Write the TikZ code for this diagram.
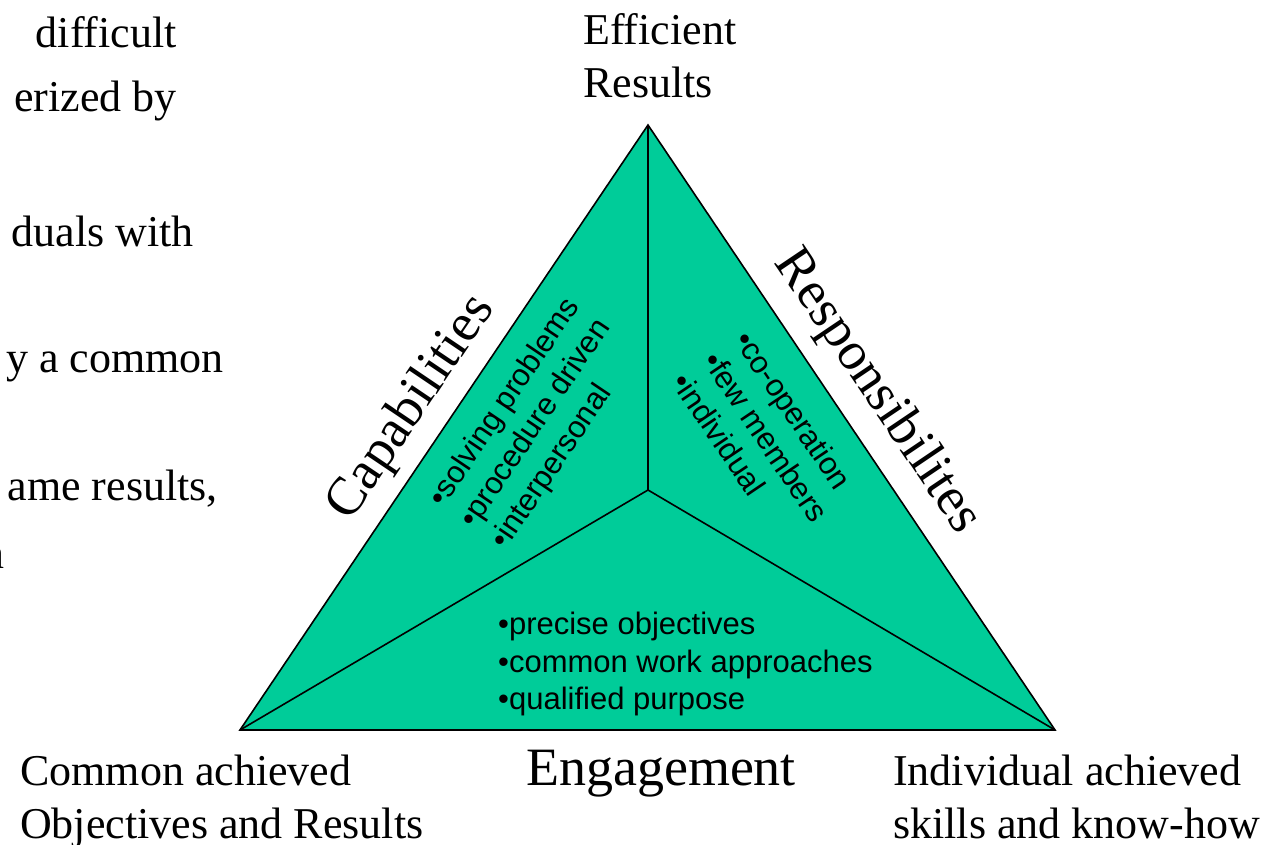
\documentclass[tikz,border=0pt]{standalone}
\usepackage{fontspec}
\setmainfont{Liberation Serif}
\setsansfont{Liberation Sans}
\usetikzlibrary{positioning}
\definecolor{teamgreen}{RGB}{0,204,153}

\begin{document}
\begin{tikzpicture}[
    x=1pt, y=-1pt,
    every node/.style={inner sep=0pt, align=left},
    serif/.style={font=\fontsize{44}{53}\selectfont},
    sidelabel/.style={font=\fontsize{54}{64}\selectfont},
    bullets/.style={font=\sffamily\fontsize{31}{37.5}\selectfont},
    rim/.style={draw=black, line width=1.6pt}
]
\useasboundingbox (0,0) rectangle (1288,845);

% triangle corners and centre
\coordinate (top) at (648,125);
\coordinate (bl) at (240,730);
\coordinate (br) at (1055,730);
\coordinate (mid) at (648,490);

\fill[teamgreen] (top) -- (bl) -- (br) -- cycle;
\draw[rim] (mid) -- (top);
\draw[rim] (mid) -- (bl);
\draw[rim] (mid) -- (br);
\draw[rim] (top) -- (bl) -- (br) -- cycle;

% items inside the three parts
\node[bullets, rotate=56, anchor=west] (capitems) at (468,525) {\textbullet solving problems\\\textbullet procedure driven\\\textbullet interpersonal};
\node[bullets, rotate=-56, anchor=west] (respitems) at (711,355) {\textbullet co-operation\\\textbullet few members\\\textbullet individual};
\node[bullets, anchor=west] (engitems) at (498,664) {\textbullet precise objectives\\\textbullet common work approaches\\\textbullet qualified purpose};

% side labels
\node[sidelabel, rotate=56] (cap) at (412,408) {Capabilities};
\node[sidelabel, rotate=-56] (resp) at (877,392) {Responsibilites};
\node[sidelabel, anchor=base] (eng) at (661,785) {Engagement};

% corner labels
\node[serif, anchor=west] (effres) at (583,56) {Efficient\\Results};
\node[serif, anchor=north west] (commonres) at (20,755) {Common achieved\\Objectives and Results};
\node[serif, anchor=north west] (indivres) at (893,755) {Individual achieved\\skills and know-how};

% text cut off at the left edge
\node[serif, anchor=base east] (txta) at (177,48) {difficult};
\node[serif, anchor=base east] (txtb) at (177,112) {erized by};
\node[serif, anchor=base east] (txtc) at (194,247) {duals with};
\node[serif, anchor=base east] (txtd) at (224,372) {y a common};
\node[serif, anchor=base east] (txte) at (218,500) {ame results,};
\node[serif, anchor=base east] (txtf) at (5,568) {n};
\end{tikzpicture}
\end{document}
